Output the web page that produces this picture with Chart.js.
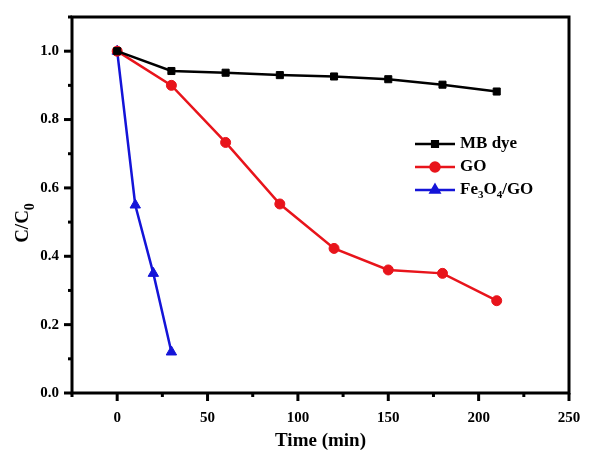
<!DOCTYPE html>
<html>
<head>
<meta charset="utf-8">
<script src="https://cdn.jsdelivr.net/npm/chart.js@4.4.0/dist/chart.umd.min.js"></script>
<style>
  html, body { margin: 0; padding: 0; background: #fff; }
  #wrap { width: 592px; height: 450px; }
</style>
</head>
<body>
<div id="wrap"><canvas id="chart" width="592" height="450"></canvas></div>
<script>
const mbTime = [0, 30, 60, 90, 120, 150, 180, 210]
const mbValues = [1.0, 0.942, 0.937, 0.930, 0.926, 0.918, 0.902, 0.882]
const goTime = [0, 30, 60, 90, 120, 150, 180, 210]
const goValues = [1.0, 0.90, 0.733, 0.553, 0.423, 0.36, 0.35, 0.27]
const feTime = [0, 10, 20, 30]
const feValues = [1.0, 0.55, 0.35, 0.12]
const xMajorTicks = [0, 50, 100, 150, 200, 250]
const yMajorTicks = [0, 0.2, 0.4, 0.6, 0.8, 1.0]

const FONT = "'Liberation Serif', 'Times New Roman', serif"
const BLACK = '#000000'
const RED = '#e8141b'
const BLUE = '#1414d8'

const toPoints = (xs, ys) => xs.map((x, i) => ({ x: x, y: ys[i] }))
const isMajor = (v, list) => list.some(m => Math.abs(m - v) < 1e-6)

// legend entries, subscripts given as parts
const legendItems = [
    { color: BLACK, style: 'rect', radius: 4, parts: [['MB dye', false]] },
    { color: RED, style: 'circle', radius: 4.5, parts: [['GO', false]] },
    { color: BLUE, style: 'triangle', radius: 5, parts: [['Fe', false], ['3', true], ['O', false], ['4', true], ['/GO', false]] }
]

const drawParts = (ctx, parts, x, y, size, subScale, subShift) => {
    let cx = x
    parts.forEach(([txt, sub]) => {
        ctx.font = `bold ${sub ? Math.round(size * subScale) : size}px ${FONT}`
        ctx.fillText(txt, cx, sub ? y + size * subShift : y)
        cx += ctx.measureText(txt).width
    })
}

const framePlugin = {
    id: 'frame',
    afterDraw(chart) {
        const { ctx, chartArea: a, scales } = chart
        ctx.save()
        ctx.strokeStyle = BLACK
        ctx.lineWidth = 3
        ctx.strokeRect(a.left, a.top, a.right - a.left, a.bottom - a.top)

        // tick marks, outward
        scales.x.ticks.forEach(t => {
            const px = scales.x.getPixelForValue(t.value)
            const len = isMajor(t.value, xMajorTicks) ? 8 : 4
            ctx.beginPath()
            ctx.moveTo(px, a.bottom)
            ctx.lineTo(px, a.bottom + len)
            ctx.stroke()
        })
        scales.y.ticks.forEach(t => {
            const py = scales.y.getPixelForValue(t.value)
            const len = isMajor(t.value, yMajorTicks) ? 8 : 4
            ctx.beginPath()
            ctx.moveTo(a.left, py)
            ctx.lineTo(a.left - len, py)
            ctx.stroke()
        })

        // y axis title C/C0
        ctx.fillStyle = BLACK
        ctx.translate(23, 221)
        ctx.rotate(-Math.PI / 2)
        ctx.textBaseline = 'middle'
        ctx.font = `bold 19px ${FONT}`
        const w = ctx.measureText('C/C').width + 11
        drawParts(ctx, [['C/C', false], ['0', true]], -w / 2, 0, 19, 0.75, 0.4)
        ctx.restore()

        // legend
        ctx.save()
        ctx.textBaseline = 'middle'
        legendItems.forEach((item, i) => {
            const y = 144 + i * 23
            ctx.strokeStyle = item.color
            ctx.fillStyle = item.color
            ctx.lineWidth = 2.5
            ctx.beginPath()
            ctx.moveTo(415, y)
            ctx.lineTo(455, y)
            ctx.stroke()
            Chart.helpers.drawPoint(ctx, { pointStyle: item.style, radius: item.radius, rotation: 0, borderWidth: 1 }, 435, y)
            ctx.fillStyle = BLACK
            drawParts(ctx, item.parts, 460, y, 17, 0.65, 0.32)
        })
        ctx.restore()
    }
}

const ds = (label, xs, ys, color, style, radius) => ({
    label: label,
    data: toPoints(xs, ys),
    borderColor: color,
    backgroundColor: color,
    borderWidth: 2.5,
    pointStyle: style,
    pointRadius: radius,
    pointBorderWidth: 1,
    tension: 0
})

new Chart(document.getElementById('chart'), {
    type: 'line',
    data: {
        datasets: [
            ds('MB dye', mbTime, mbValues, BLACK, 'rect', 5),
            ds('GO', goTime, goValues, RED, 'circle', 5),
            ds('Fe3O4/GO', feTime, feValues, BLUE, 'triangle', 6)
        ]
    },
    options: {
        responsive: false,
        animation: false,
        layout: { padding: { top: 17, right: 23, left: 0, bottom: 0 } },
        plugins: { legend: { display: false }, tooltip: { enabled: false } },
        scales: {
            x: {
                type: 'linear',
                min: -25,
                max: 250,
                grid: { display: false },
                border: { display: false },
                afterFit: s => { s.height = 57 },
                ticks: {
                    stepSize: 25,
                    autoSkip: false,
                    maxRotation: 0,
                    padding: 8,
                    color: BLACK,
                    font: { family: FONT, size: 15, weight: 'bold' },
                    callback: v => isMajor(v, xMajorTicks) ? String(v) : ''
                },
                title: {
                    display: true,
                    text: 'Time (min)',
                    color: BLACK,
                    padding: { top: 4, bottom: 0 },
                    font: { family: FONT, size: 19, weight: 'bold', lineHeight: 0.9 }
                }
            },
            y: {
                type: 'linear',
                min: 0,
                max: 1.1,
                grid: { display: false },
                border: { display: false },
                afterFit: s => { s.width = 72 },
                ticks: {
                    stepSize: 0.1,
                    autoSkip: false,
                    padding: 5,
                    color: BLACK,
                    font: { family: FONT, size: 15, weight: 'bold' },
                    callback: v => isMajor(v, yMajorTicks) ? v.toFixed(1) : ''
                }
            }
        }
    },
    plugins: [framePlugin]
})
</script>
</body>
</html>
